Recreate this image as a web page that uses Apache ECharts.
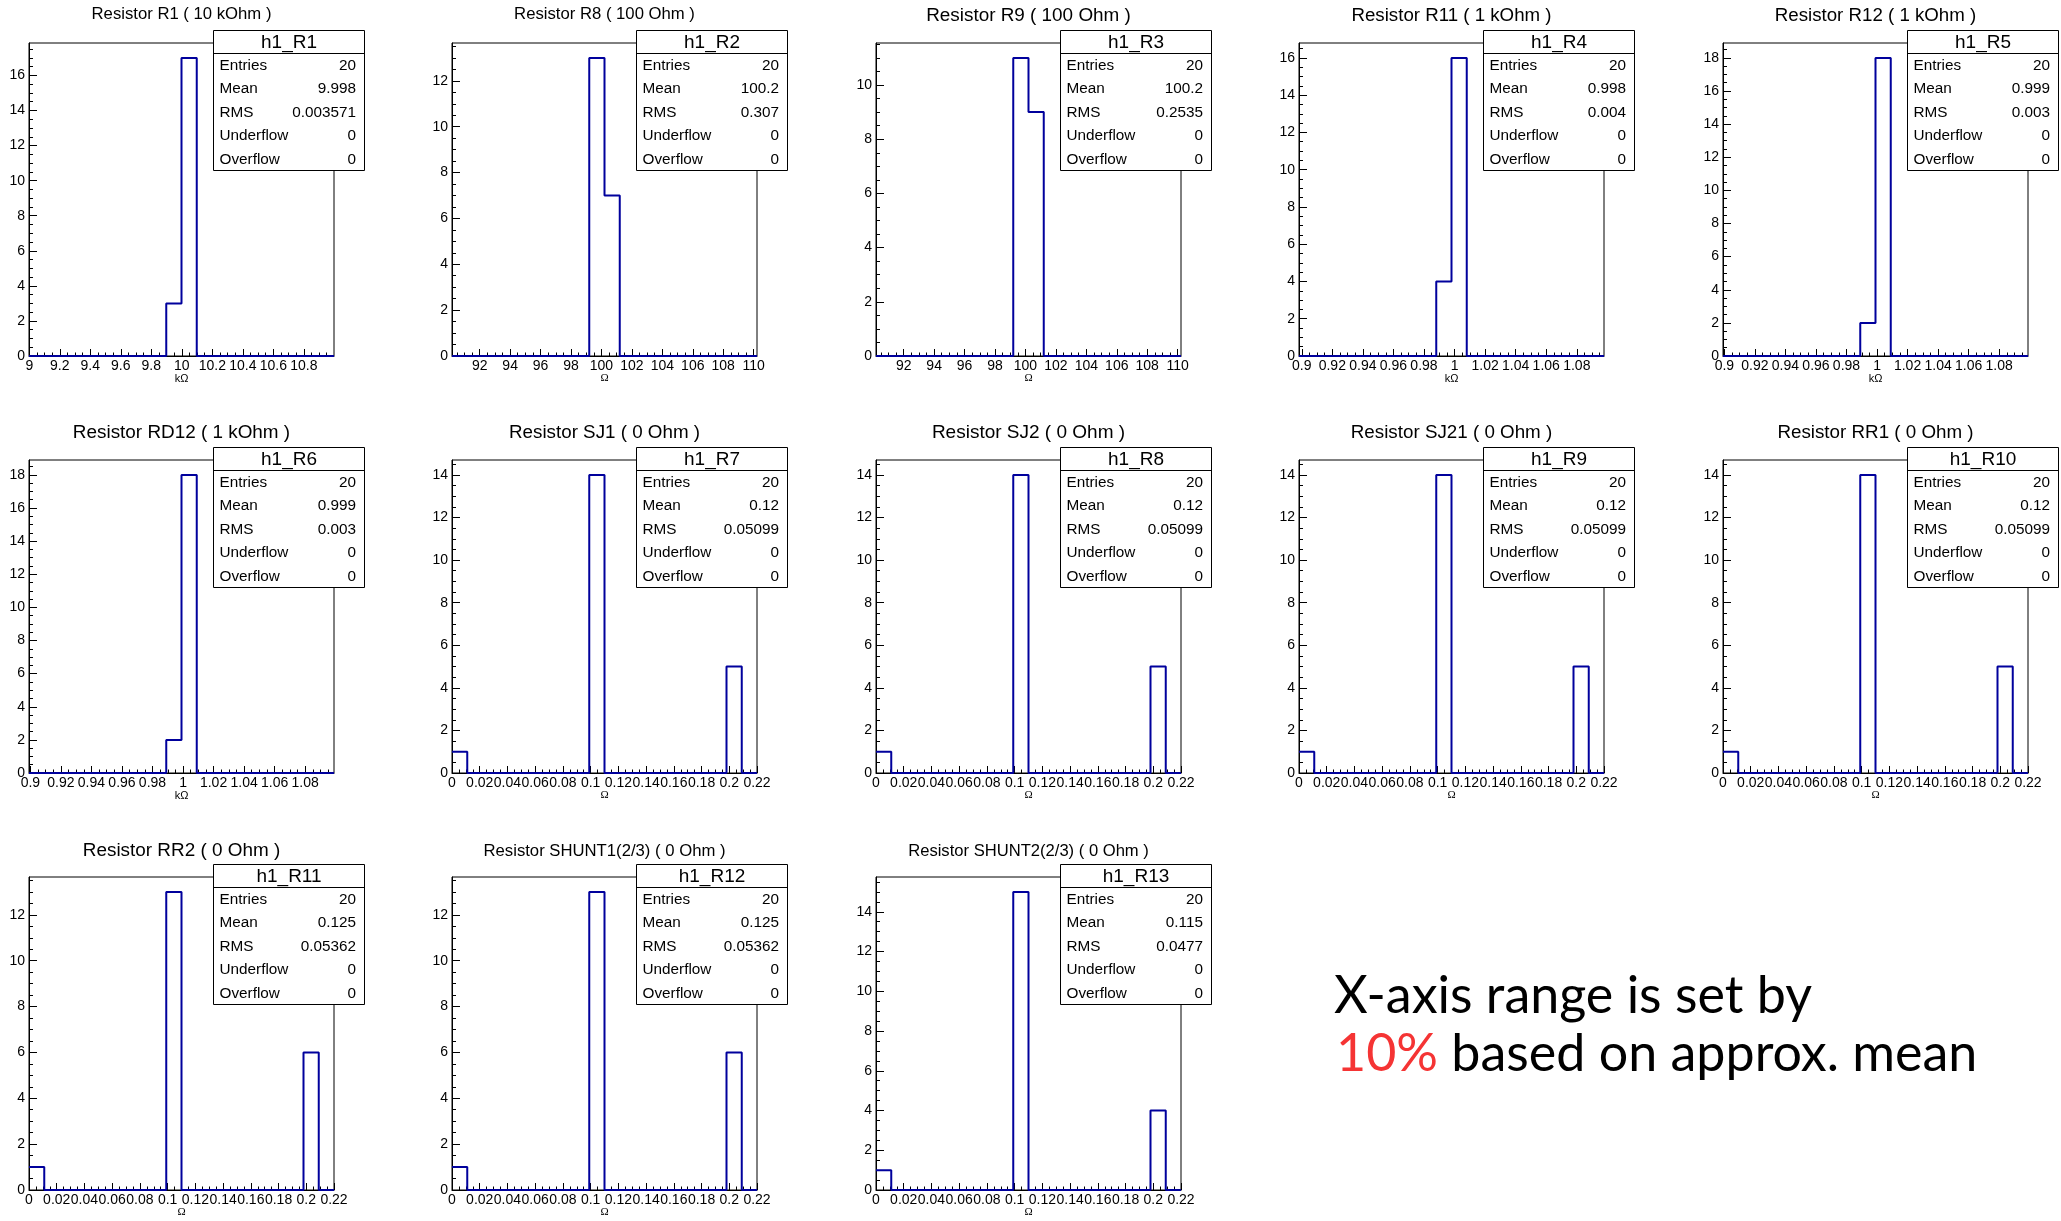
<!DOCTYPE html>
<html><head><meta charset="utf-8">
<script src="https://cdn.jsdelivr.net/npm/echarts@6/dist/echarts.min.js"></script>
<style>html,body{margin:0;padding:0;background:#fff}#c{width:2061px;height:1221px}</style>
</head><body><div id="c"></div>
<script>
// ---------------- DATA ----------------
const titles = [
  'Resistor R1 ( 10 kOhm )', 'Resistor R8 ( 100 Ohm )', 'Resistor R9 ( 100 Ohm )',
  'Resistor R11 ( 1 kOhm )', 'Resistor R12 ( 1 kOhm )', 'Resistor RD12 ( 1 kOhm )',
  'Resistor SJ1 ( 0 Ohm )', 'Resistor SJ2 ( 0 Ohm )', 'Resistor SJ21 ( 0 Ohm )',
  'Resistor RR1 ( 0 Ohm )', 'Resistor RR2 ( 0 Ohm )',
  'Resistor SHUNT1(2/3) ( 0 Ohm )', 'Resistor SHUNT2(2/3) ( 0 Ohm )'
];
const histNames = ['h1_R1','h1_R2','h1_R3','h1_R4','h1_R5','h1_R6','h1_R7','h1_R8','h1_R9','h1_R10','h1_R11','h1_R12','h1_R13'];
const units = ['kΩ','Ω','Ω','kΩ','kΩ','kΩ','Ω','Ω','Ω','Ω','Ω','Ω','Ω'];
const xMins = [8.998, 90.18, 90.18, 0.8982, 0.8991, 0.8991, 0, 0, 0, 0, 0, 0, 0];
const xMaxs = [10.998, 110.22, 110.22, 1.0978, 1.0989, 1.0989, 0.22, 0.22, 0.22, 0.22, 0.22, 0.22, 0.22];

const countsR1  = [0,0,0,0,0,0,0,0,0,3,17,0,0,0,0,0,0,0,0,0];
const countsR2  = [0,0,0,0,0,0,0,0,0,13,7,0,0,0,0,0,0,0,0,0];
const countsR3  = [0,0,0,0,0,0,0,0,0,11,9,0,0,0,0,0,0,0,0,0];
const countsR4  = [0,0,0,0,0,0,0,0,0,4,16,0,0,0,0,0,0,0,0,0];
const countsR5  = [0,0,0,0,0,0,0,0,0,2,18,0,0,0,0,0,0,0,0,0];
const countsR6  = [0,0,0,0,0,0,0,0,0,2,18,0,0,0,0,0,0,0,0,0];
const countsR7  = [1,0,0,0,0,0,0,0,0,14,0,0,0,0,0,0,0,0,5,0];
const countsR8  = [1,0,0,0,0,0,0,0,0,14,0,0,0,0,0,0,0,0,5,0];
const countsR9  = [1,0,0,0,0,0,0,0,0,14,0,0,0,0,0,0,0,0,5,0];
const countsR10 = [1,0,0,0,0,0,0,0,0,14,0,0,0,0,0,0,0,0,5,0];
const countsR11 = [1,0,0,0,0,0,0,0,0,13,0,0,0,0,0,0,0,0,6,0];
const countsR12 = [1,0,0,0,0,0,0,0,0,13,0,0,0,0,0,0,0,0,6,0];
const countsR13 = [1,0,0,0,0,0,0,0,0,15,0,0,0,0,0,0,0,0,4,0];
const allCounts = [countsR1,countsR2,countsR3,countsR4,countsR5,countsR6,countsR7,countsR8,countsR9,countsR10,countsR11,countsR12,countsR13];

const statEntries   = ['20','20','20','20','20','20','20','20','20','20','20','20','20'];
const statMeans     = ['9.998','100.2','100.2','0.998','0.999','0.999','0.12','0.12','0.12','0.12','0.125','0.125','0.115'];
const statRMS       = ['0.003571','0.307','0.2535','0.004','0.003','0.003','0.05099','0.05099','0.05099','0.05099','0.05362','0.05362','0.0477'];
const statUnderflow = ['0','0','0','0','0','0','0','0','0','0','0','0','0'];
const statOverflow  = ['0','0','0','0','0','0','0','0','0','0','0','0','0'];

const xTicks10k = [9, 9.2, 9.4, 9.6, 9.8, 10, 10.2, 10.4, 10.6, 10.8];
const xTicks100 = [92, 94, 96, 98, 100, 102, 104, 106, 108, 110];
const xTicks1k  = [0.9, 0.92, 0.94, 0.96, 0.98, 1, 1.02, 1.04, 1.06, 1.08];
const xTicks0   = [0, 0.02, 0.04, 0.06, 0.08, 0.1, 0.12, 0.14, 0.16, 0.18, 0.2, 0.22];
const yTicks    = [0, 2, 4, 6, 8, 10, 12, 14, 16, 18];
const panelXTicks = [xTicks10k, xTicks100, xTicks100, xTicks1k, xTicks1k, xTicks1k, xTicks0, xTicks0, xTicks0, xTicks0, xTicks0, xTicks0, xTicks0];
const panelXMinorStep = [0.05, 0.5, 0.5, 0.005, 0.005, 0.005, 0.005, 0.005, 0.005, 0.005, 0.005, 0.005, 0.005];
const yMinorStep = 0.5;

const noteLine1 = 'X-axis range is set by';
const noteHighlight = '10%';
const noteLine2 = ' based on approx. mean';

// ---------------- LAYOUT / STYLE ----------------
const colLeft = [29, 452, 876, 1299, 1723];
const rowTop = [43, 460, 877];
const W = 305, H = 313;
const titleSize = [16.7, 16.7, 18.9, 18.7, 18.7, 18.9, 18.8, 19, 18.8, 18.8, 18.9, 16.7, 16.6];
const titleDy = [-29, -29, -27.5, -27.5, -27.5, -27.5, -27, -27, -27, -27, -26.5, -26, -26];
const FONT = '"Liberation Sans", Arial, Helvetica, sans-serif';
const BLUE = '#00009c';

function stepsBetween(min, max, step) {
  const out = [];
  const k0 = Math.ceil(min / step - 1e-9);
  for (let k = k0; k * step <= max + 1e-9; k++) out.push(+(k * step).toFixed(6));
  return out;
}
function outline(counts, min, max) {
  const n = counts.length, w = (max - min) / n, pts = [];
  counts.forEach((c, b) => { pts.push([min + b * w, c]); pts.push([min + (b + 1) * w, c]); });
  return pts;
}
const fmt = v => String(+(+v).toFixed(6));

const grids = [], xAxes = [], yAxes = [], series = [], graphics = [];
titles.forEach((t, i) => {
  const gx = colLeft[i % 5], gy = rowTop[Math.floor(i / 5)];
  const counts = allCounts[i];
  const ymax = 1.05 * Math.max(...counts);
  const xMaj = panelXTicks[i].filter(v => v >= xMins[i] - 1e-9 && v <= xMaxs[i] + 1e-9);
  const xMin = stepsBetween(xMins[i], xMaxs[i], panelXMinorStep[i]);
  const yMaj = yTicks.filter(v => v <= ymax);
  const yMin = stepsBetween(0, ymax, yMinorStep);
  grids.push({ left: gx, top: gy, width: W, height: H, show: true, borderColor: '#000', borderWidth: 1,
    backgroundColor: 'transparent', containLabel: false, outerBoundsMode: 'none' });
  xAxes.push({
    type: 'value', gridIndex: i, position: 'bottom', min: xMins[i], max: xMaxs[i],
    axisLine: { show: true, onZero: false, lineStyle: { color: '#000', width: 1 } },
    axisTick: { show: true, inside: true, length: 7, customValues: xMaj, lineStyle: { color: '#000', width: 1 } },
    axisLabel: { show: true, customValues: xMaj, formatter: fmt, fontSize: 14, fontFamily: FONT, color: '#000', margin: 3, hideOverlap: false },
    splitLine: { show: false },
    name: units[i], nameLocation: 'middle', nameGap: 17, nameMoveOverlap: false,
    nameTextStyle: { fontSize: 11, fontFamily: units[i] === 'Ω' ? '"Liberation Serif", serif' : FONT, color: '#000' }
  });
  xAxes.push({
    type: 'value', gridIndex: i, position: 'bottom', min: xMins[i], max: xMaxs[i],
    axisLine: { show: false, onZero: false },
    axisTick: { show: true, inside: true, length: 3.5, customValues: xMin, lineStyle: { color: '#000', width: 1 } },
    axisLabel: { show: false }, splitLine: { show: false }
  });
  yAxes.push({
    type: 'value', gridIndex: i, position: 'left', min: 0, max: ymax,
    axisLine: { show: true, onZero: false, lineStyle: { color: '#000', width: 1 } },
    axisTick: { show: true, inside: true, length: 8, customValues: yMaj, lineStyle: { color: '#000', width: 1 } },
    axisLabel: { show: true, customValues: yMaj, formatter: fmt, fontSize: 14, fontFamily: FONT, color: '#000', margin: 4 },
    splitLine: { show: false }
  });
  yAxes.push({
    type: 'value', gridIndex: i, position: 'left', min: 0, max: ymax,
    axisLine: { show: false, onZero: false },
    axisTick: { show: true, inside: true, length: 4, customValues: yMin, lineStyle: { color: '#000', width: 1 } },
    axisLabel: { show: false }, splitLine: { show: false }
  });
  series.push({
    type: 'line', name: histNames[i], xAxisIndex: 2 * i, yAxisIndex: 2 * i,
    data: outline(counts, xMins[i], xMaxs[i]), symbol: 'none', showSymbol: false,
    lineStyle: { color: BLUE, width: 2 }, clip: false, silent: true, animation: false, z: 3
  });
  // title
  graphics.push({ type: 'text', x: gx + W / 2, y: gy + titleDy[i], z: 100,
    style: { text: t, font: titleSize[i] + 'px ' + FONT, fill: '#000', align: 'center', verticalAlign: 'middle' } });
  // stats box
  const bw = 151, bh = 140;
  const rows = [['Entries', statEntries[i]], ['Mean', statMeans[i]], ['RMS', statRMS[i]], ['Underflow', statUnderflow[i]], ['Overflow', statOverflow[i]]];
  const children = [
    { type: 'rect', shape: { x: 0.5, y: 0.5, width: bw, height: bh }, style: { fill: '#fff', stroke: '#000', lineWidth: 1 } },
    { type: 'line', shape: { x1: 0.5, y1: 23.5, x2: bw + 0.5, y2: 23.5 }, style: { stroke: '#000', lineWidth: 1 } },
    { type: 'text', x: bw / 2 + 0.5, y: 12.5, style: { text: histNames[i], font: '19px ' + FONT, fill: '#000', align: 'center', verticalAlign: 'middle' } }
  ];
  rows.forEach((r, k) => {
    children.push({ type: 'text', x: 6.5, y: 35.5 + 23.5 * k, style: { text: r[0], font: '15.3px ' + FONT, fill: '#000', align: 'left', verticalAlign: 'middle' } });
    children.push({ type: 'text', x: bw - 8, y: 35.5 + 23.5 * k, style: { text: r[1], font: '15.3px ' + FONT, fill: '#000', align: 'right', verticalAlign: 'middle' } });
  });
  graphics.push({ type: 'group', x: Math.round(gx + 183.7), y: gy - 13, z: 100, children });
});

// note text
graphics.push({ type: 'text', x: 1334, y: 996, z: 100,
  style: { text: noteLine1, font: '52px Lato, "Noto Sans", sans-serif', fill: '#000', align: 'left', verticalAlign: 'middle' } });
graphics.push({ type: 'text', x: 1336, y: 1054, z: 100,
  style: { text: '{r|' + noteHighlight + '}' + noteLine2, font: '52px Lato, "Noto Sans", sans-serif', fill: '#000', align: 'left', verticalAlign: 'middle',
    rich: { r: { fill: '#f53434', font: '52px Lato, "Noto Sans", sans-serif' } } } });

const chart = echarts.init(document.getElementById('c'), null, { renderer: 'canvas', width: 2061, height: 1221 });
chart.setOption({
  backgroundColor: '#fff',
  animation: false,
  grid: grids, xAxis: xAxes, yAxis: yAxes, series,
  graphic: { elements: graphics }
});
</script></body></html>
